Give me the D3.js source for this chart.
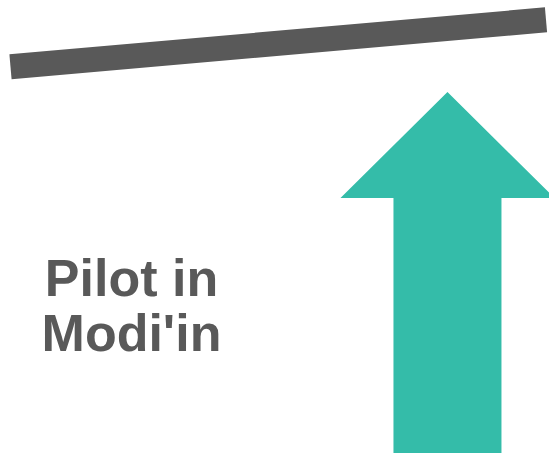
<!DOCTYPE html>
<html>
<head>
<meta charset="utf-8">
<script src="https://cdn.jsdelivr.net/npm/d3@7"></script>
<style>
  html, body { margin: 0; padding: 0; background: #fff; }
  svg { display: block; }
</style>
</head>
<body>
<div id="chart"></div>
<script>
// Trend line (two points) and the up arrow value, on a 0..8 value scale
const trendX = [0, 1];
const trendY = [8.56, 9.6];
const arrowFrom = 0;
const arrowTo = 8;
const arrowPos = 0.816;
const labelLines = ['Pilot in', "Modi'in"];

const width = 549;
const height = 456;

const svg = d3.select('#chart').append('svg')
    .attr('width', width)
    .attr('height', height);

// Scales
const x = d3.scaleLinear().domain([0, 1]).range([10.5, 546]);
const y = d3.scaleLinear().domain([0, 8]).range([453, 92]);

// Thick grey trend line
const line = d3.line()
    .x((d, i) => x(trendX[i]))
    .y(d => y(d));

svg.append('path')
    .datum(trendY)
    .attr('d', line)
    .attr('fill', 'none')
    .attr('stroke', '#595959')
    .attr('stroke-width', 25)
    .attr('stroke-linecap', 'butt');

// Up arrow
const cx = x(arrowPos);
const shaftHalf = 54;
const headHalf = 107;
const headLen = 106;
const tipY = y(arrowTo);
const baseY = y(arrowFrom);
const arrowPts = [
    [cx, tipY],
    [cx + headHalf, tipY + headLen],
    [cx + shaftHalf, tipY + headLen],
    [cx + shaftHalf, baseY],
    [cx - shaftHalf, baseY],
    [cx - shaftHalf, tipY + headLen],
    [cx - headHalf, tipY + headLen]
];
svg.append('path')
    .attr('d', d3.line()(arrowPts) + 'Z')
    .attr('fill', '#34bca9');

// Label
const label = svg.append('text')
    .attr('x', 131.5)
    .attr('y', 296)
    .attr('text-anchor', 'middle')
    .style('font-family', '"Liberation Sans", Arial, sans-serif')
    .style('font-weight', 'bold')
    .style('font-size', '52px')
    .attr('fill', '#595959');

label.selectAll('tspan')
    .data(labelLines)
    .enter().append('tspan')
    .attr('x', 131.5)
    .attr('dy', (d, i) => i === 0 ? 0 : 55)
    .text(d => d);
</script>
</body>
</html>
